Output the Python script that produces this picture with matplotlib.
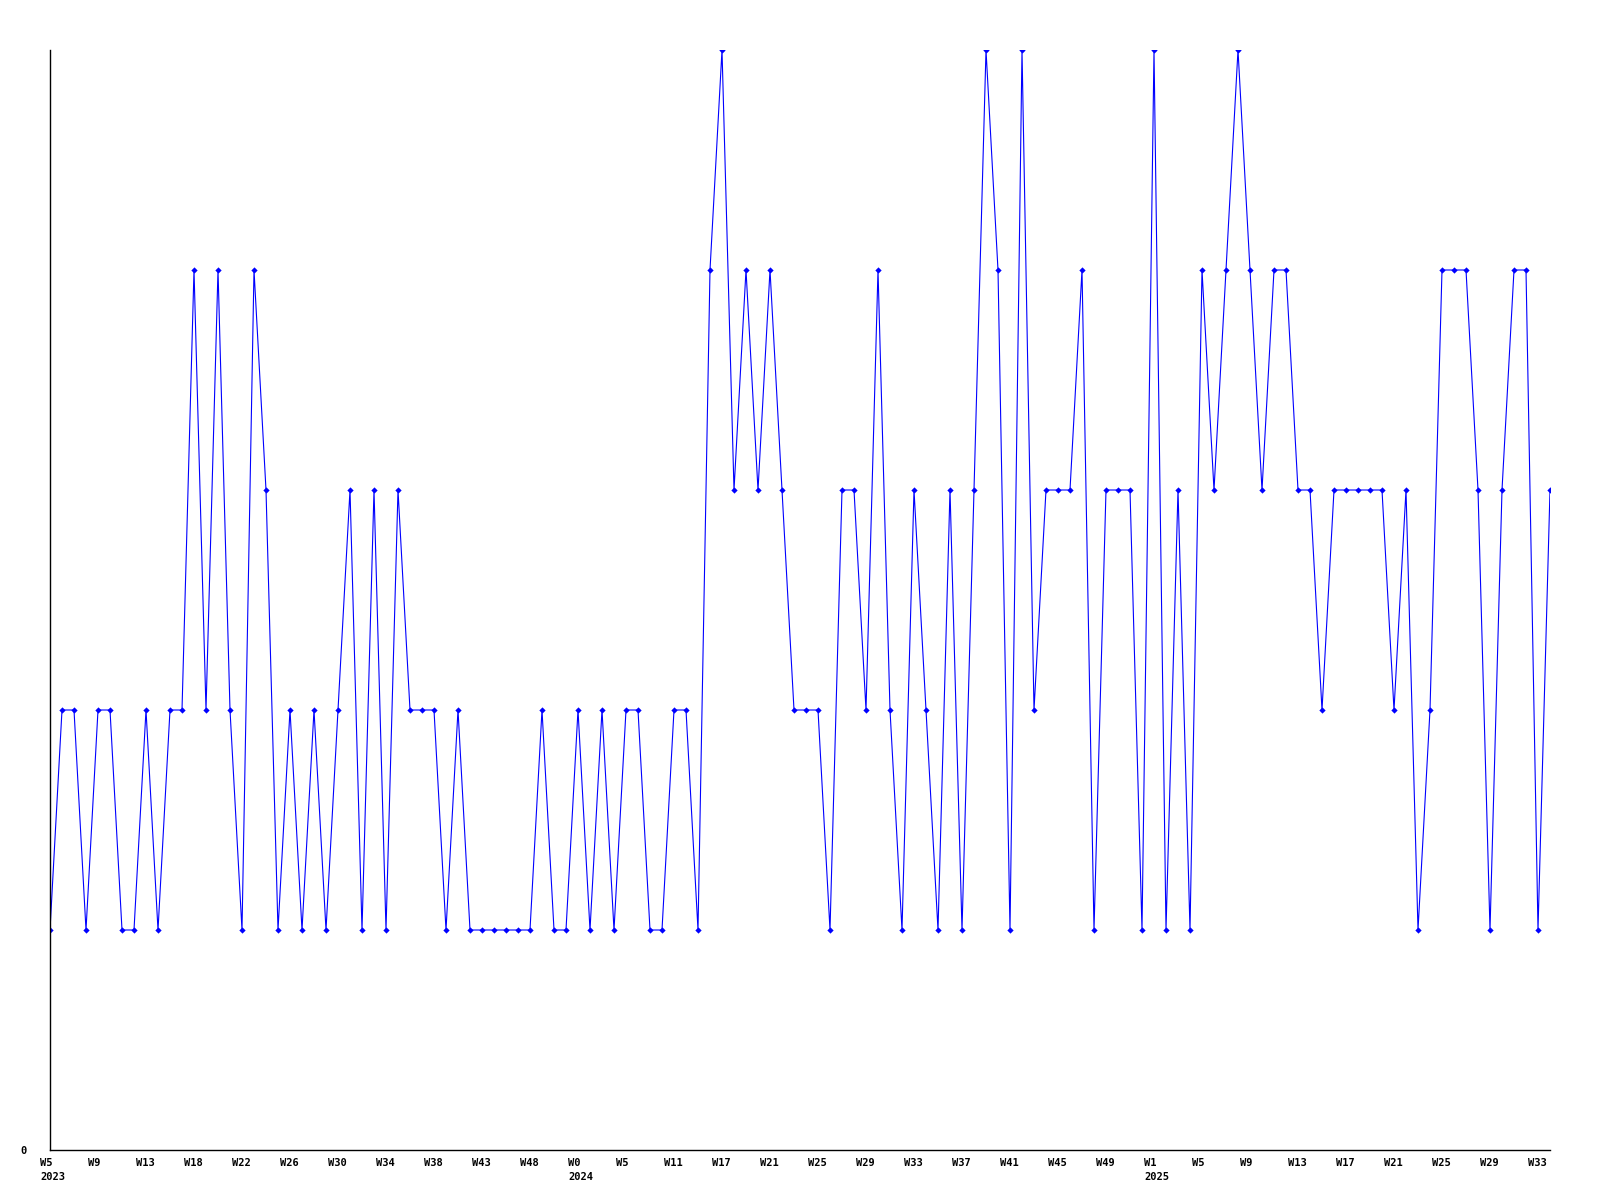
import matplotlib
matplotlib.use("Agg")
import matplotlib.pyplot as plt
import matplotlib.transforms as mtransforms

# weekly counts, one value per week shown on the axis
counts = [
    1, 2, 2, 1, 2, 2, 1, 1, 2, 1, 2, 2, 4, 2, 4, 2, 1, 4, 3, 1,
    2, 1, 2, 1, 2, 3, 1, 3, 1, 3, 2, 2, 2, 1, 2, 1, 1, 1, 1, 1,
    1, 2, 1, 1, 2, 1, 2, 1, 2, 2, 1, 1, 2, 2, 1, 4, 5, 3, 4, 3,
    4, 3, 2, 2, 2, 1, 3, 3, 2, 4, 2, 1, 3, 2, 1, 3, 1, 3, 5, 4,
    1, 5, 2, 3, 3, 3, 4, 1, 3, 3, 3, 1, 5, 1, 3, 1, 4, 3, 4, 5,
    4, 3, 4, 4, 3, 3, 2, 3, 3, 3, 3, 3, 2, 3, 1, 2, 4, 4, 4, 3,
    1, 3, 4, 4, 1, 3,
]

# one label every fourth week
week_labels = [
    "W5\n2023", "W9", "W13", "W18", "W22", "W26", "W30", "W34", "W38", "W43", "W48",
    "W0\n2024", "W5", "W11", "W17", "W21", "W25", "W29", "W33", "W37", "W41", "W45", "W49",
    "W1\n2025", "W5", "W9", "W13", "W17", "W21", "W25", "W29", "W33",
]
label_step = 4

W, H = 1600, 1200
fig = plt.figure(figsize=(16, 12), dpi=100)
left, right, top, bottom = 50, 1550, 50, 1150
ax = fig.add_axes([left / W, 1 - bottom / H, (right - left) / W, (bottom - top) / H])

x = list(range(len(counts)))
ax.plot(x, counts, color="#0000ff", linewidth=0.8, marker="D", markersize=3.2,
        markeredgewidth=0, markerfacecolor="#0000ff")

ax.set_xlim(0, len(counts) - 1)
ax.set_ylim(0, 5)

for side in ["top", "right"]:
    ax.spines[side].set_visible(False)
for side in ["left", "bottom"]:
    ax.spines[side].set_color("black")
    ax.spines[side].set_linewidth(1.0)

mono = dict(family="DejaVu Sans Mono", weight="bold", size=7.5)

ax.set_yticks([0])
ax.set_yticklabels(["0"], **mono)
ax.tick_params(axis="y", length=0, pad=17)

ax.set_xticks(x[::label_step])
ax.set_xticklabels(week_labels, ha="left", linespacing=1.45, **mono)
ax.tick_params(axis="x", length=0, pad=6)
shift = mtransforms.ScaledTranslation(-10 / 100, 0, fig.dpi_scale_trans)
for lab in ax.get_xticklabels():
    lab.set_transform(lab.get_transform() + shift)

fig.savefig("out.png", dpi=100, facecolor="white")
